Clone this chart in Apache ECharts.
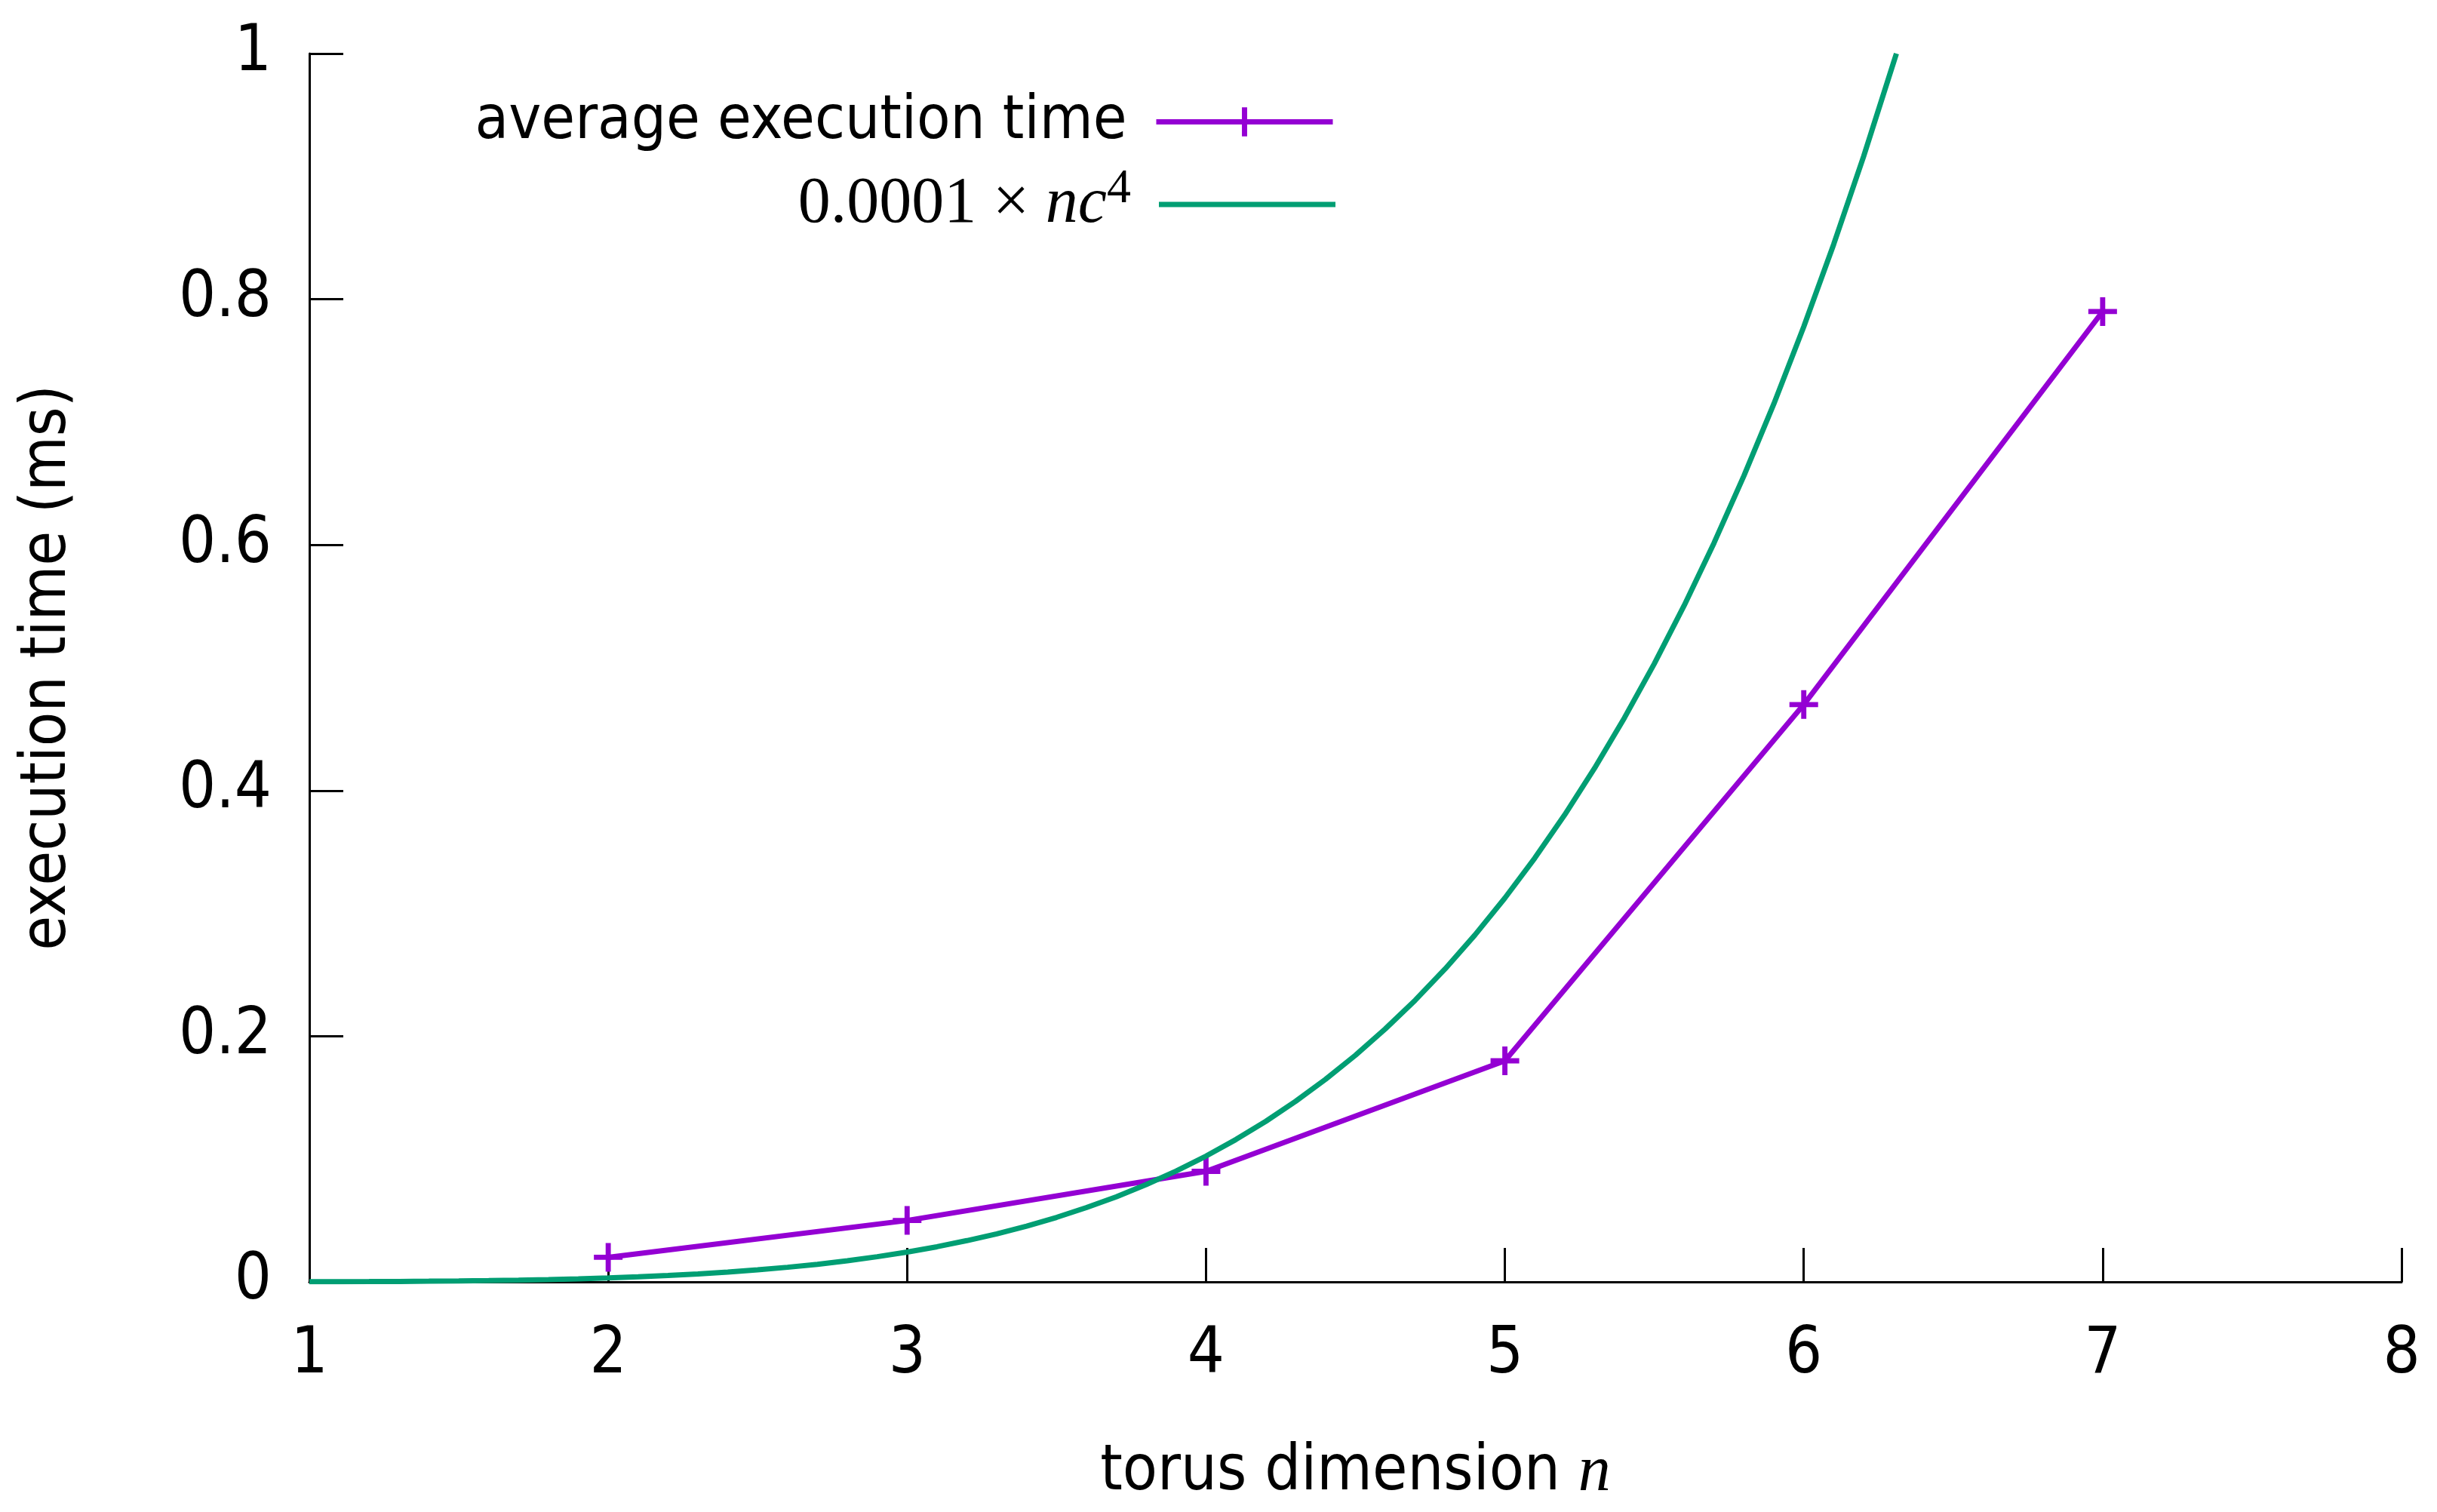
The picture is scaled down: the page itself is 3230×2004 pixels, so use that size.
<!DOCTYPE html>
<html>
<head>
<meta charset="utf-8">
<script src="https://cdn.jsdelivr.net/npm/echarts@6/dist/echarts.min.js"></script>
<style>html,body{margin:0;padding:0;background:#fff;}#c{width:3230px;height:2004px;}</style>
</head>
<body>
<div id="c"></div>
<script>
// measured data
const dimN = [2, 3, 4, 5, 6, 7];
const avgTime = [0.02, 0.05, 0.09, 0.18, 0.47, 0.79];
// reference curve 0.0001 x nc^4
const fitX = [1.0, 1.1, 1.2, 1.3, 1.4, 1.5, 1.6, 1.7, 1.8, 1.9,
              2.0, 2.1, 2.2, 2.3, 2.4, 2.5, 2.6, 2.7, 2.8, 2.9,
              3.0, 3.1, 3.2, 3.3, 3.4, 3.5, 3.6, 3.7, 3.8, 3.9,
              4.0, 4.1, 4.2, 4.3, 4.4, 4.5, 4.6, 4.7, 4.8, 4.9,
              5.0, 5.1, 5.2, 5.3, 5.4, 5.5, 5.6, 5.7, 5.8, 5.9,
              6.0, 6.1, 6.2, 6.3, 6.31];
const fitY = [0.0001, 0.00016, 0.00025, 0.00037, 0.00054, 0.00076, 0.00105, 0.00142, 0.00189, 0.00248,
              0.0032, 0.0041, 0.0052, 0.0064, 0.0080, 0.0098, 0.0119, 0.0143, 0.0172, 0.0205,
              0.0243, 0.0286, 0.0336, 0.0391, 0.0454, 0.0525, 0.0605, 0.0693, 0.0792, 0.0902,
              0.1024, 0.1159, 0.1307, 0.1470, 0.1649, 0.1845, 0.2060, 0.2293, 0.2548, 0.2825,
              0.3125, 0.3450, 0.3802, 0.4182, 0.4592, 0.5033, 0.5507, 0.6017, 0.6564, 0.7149,
              0.7776, 0.8446, 0.9161, 0.9924, 1.0];
const xTicks = [1, 2, 3, 4, 5, 6, 7, 8];
const yTicks = [0, 0.2, 0.4, 0.6, 0.8, 1];

const SANS = "'DejaVu Sans Condensed', 'DejaVu Sans', sans-serif";
const SERIF = "'Liberation Serif', 'DejaVu Serif', serif";
const PURPLE = '#9400d3';
const GREEN = '#009e73';
const PLUS = 'path://M41,0H59V41H100V59H59V100H41V59H0V41H41Z';

const chart = echarts.init(document.getElementById('c'), null, {renderer: 'canvas'});
chart.setOption({
  backgroundColor: '#ffffff',
  animation: false,
  grid: {left: 410, right: 47, top: 71, bottom: 305, containLabel: false},
  legend: [
    {
      data: ['average execution time'],
      orient: 'vertical', align: 'right',
      right: 1455, top: 116,
      itemWidth: 234, itemHeight: 48,
      lineStyle: {width: 7},
      textStyle: {fontFamily: SANS, fontSize: 81, color: '#000', padding: [0, 34, 0, 0]}
    },
    {
      data: [{name: 'fit', icon: 'rect'}],
      orient: 'vertical', align: 'right',
      right: 1455, top: 214,
      itemWidth: 234, itemHeight: 7,
      formatter: function () { return '{a|0.0001 × }{i|nc}{s|4}'; },
      textStyle: {
        color: '#000', padding: [0, 32, 0, 0],
        rich: {
          a: {fontFamily: SERIF, fontSize: 86, color: '#000'},
          i: {fontFamily: SERIF, fontSize: 86, fontStyle: 'italic', color: '#000'},
          s: {fontFamily: SERIF, fontSize: 64, color: '#000', padding: [0, 0, 40, 0]}
        }
      }
    }
  ],
  xAxis: {
    type: 'value', min: xTicks[0], max: xTicks[xTicks.length - 1], interval: 1,
    name: '{a|torus dimension }{i|n}',
    nameLocation: 'middle', nameGap: 210,
    nameTextStyle: {
      rich: {
        a: {fontFamily: SANS, fontSize: 84, color: '#000'},
        i: {fontFamily: SERIF, fontSize: 86, fontStyle: 'italic', color: '#000'}
      }
    },
    axisLine: {show: true, onZero: false, lineStyle: {color: '#000', width: 3}},
    axisTick: {show: true, inside: true, length: 45, lineStyle: {color: '#000', width: 3}},
    axisLabel: {show: true, margin: 55, fontFamily: SANS, fontSize: 86, color: '#000'},
    splitLine: {show: false}
  },
  yAxis: {
    type: 'value', min: yTicks[0], max: yTicks[yTicks.length - 1], interval: 0.2,
    name: 'execution time (ms)',
    nameLocation: 'middle', nameGap: 304,
    nameTextStyle: {fontFamily: SANS, fontSize: 83, color: '#000'},
    axisLine: {show: true, onZero: false, lineStyle: {color: '#000', width: 3}},
    axisTick: {show: true, inside: true, length: 45, lineStyle: {color: '#000', width: 3}},
    axisLabel: {show: true, margin: 50, fontFamily: SANS, fontSize: 86, color: '#000', padding: [0, 0, 28, 0]},
    splitLine: {show: false}
  },
  series: [
    {
      name: 'average execution time',
      type: 'line',
      data: dimN.map((x, i) => [x, avgTime[i]]),
      symbol: PLUS, symbolSize: 38, showSymbol: true,
      itemStyle: {color: PURPLE},
      lineStyle: {color: PURPLE, width: 7},
      z: 2
    },
    {
      name: 'fit',
      type: 'line',
      data: fitX.map((x, i) => [x, fitY[i]]),
      symbol: 'none', smooth: false,
      itemStyle: {color: GREEN},
      lineStyle: {color: GREEN, width: 7},
      z: 3
    }
  ]
});
</script>
</body>
</html>
